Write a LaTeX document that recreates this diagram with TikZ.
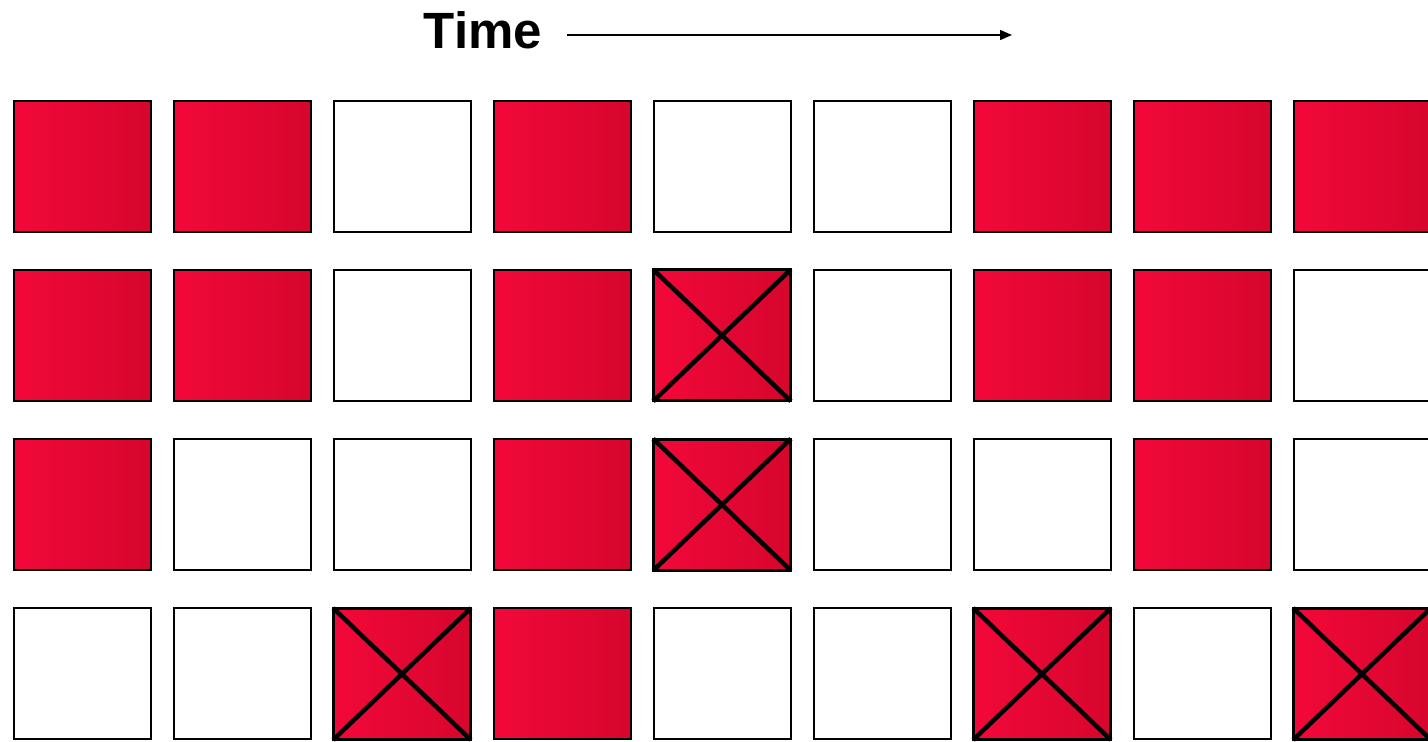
\documentclass[tikz,border=0pt]{standalone}
\usepackage{fontspec}
\setmainfont{Liberation Sans}
\usetikzlibrary{arrows.meta}
\definecolor{redL}{RGB}{242,8,58}
\definecolor{redR}{RGB}{214,6,45}
\tikzset{
  cell/.style={draw=black, line width=2pt, minimum width=137pt, minimum height=131pt, inner sep=0pt, fill=white},
  redcell/.style={cell, left color=redL, right color=redR},
  crosscell/.style={redcell, line width=3pt},
  crossline/.style={line width=4.5pt, shorten <=1.6pt, shorten >=1.6pt},
  timearrow/.style={line width=1.5pt, -{Triangle[length=12pt,width=10pt]}}
}
\def\kindR{R}
\def\kindX{X}
\begin{document}
\begin{tikzpicture}[x=1pt,y=-1pt]
\useasboundingbox (0,0) rectangle (1428,742);
\node[font=\bfseries\fontsize{51}{51}\selectfont, anchor=base] (title) at (483,48) {Time};
\coordinate (a0) at (567,35);
\coordinate (a1) at (1012,35);
\draw[timearrow] (a0) -- (a1);
% pattern: R red, W white, X crossed
\foreach \pat [count=\r] in {{R,R,W,R,W,W,R,R,R},{R,R,W,R,X,W,R,R,W},{R,W,W,R,X,W,W,R,W},{W,W,X,R,W,W,X,W,X}}{
  \foreach \t [count=\c] in \pat {
    \pgfmathsetmacro{\cx}{82+160*(\c-1)}
    \pgfmathsetmacro{\cy}{166+169.33*(\r-1)}
    \ifx\t\kindR
      \node[redcell] (b\r-\c) at (\cx,\cy) {};
    \else\ifx\t\kindX
      \node[crosscell] (b\r-\c) at (\cx,\cy) {};
      \draw[crossline] (b\r-\c.north west) -- (b\r-\c.south east);
      \draw[crossline] (b\r-\c.north east) -- (b\r-\c.south west);
    \else
      \node[cell] (b\r-\c) at (\cx,\cy) {};
    \fi\fi
  }
}
\end{tikzpicture}
\end{document}
